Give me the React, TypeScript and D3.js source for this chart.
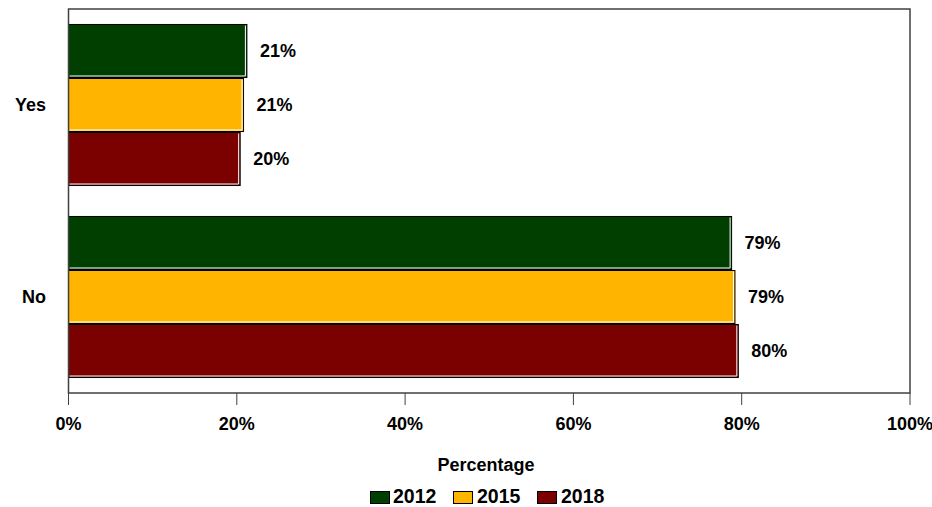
import React from "react";
import * as d3 from "d3";

const categories = ["Yes", "No"];
const seriesNames = ["2012", "2015", "2018"];
const values2012 = [21.2, 78.8];
const values2015 = [20.8, 79.2];
const values2018 = [20.4, 79.6];
const labels2012 = ["21%", "79%"];
const labels2015 = ["21%", "79%"];
const labels2018 = ["20%", "80%"];
const xTicks = [0, 20, 40, 60, 80, 100];
const colors = ["#003f00", "#ffb400", "#7b0000"];

const W = 932;
const H = 507;
const L = 68.5, R = 910, T = 9, B = 393;
const FONT = "'Liberation Sans', Arial, Helvetica, sans-serif";

export default function App() {
  const series = [values2012, values2015, values2018];
  const labels = [labels2012, labels2015, labels2018];
  const x = d3.scaleLinear().domain([0, 100]).range([L, R]);
  const y0 = d3.scaleBand<string>().domain(categories).range([T, B]).paddingInner(0.156).paddingOuter(0.078);
  const y1 = d3.scaleBand<string>().domain(seriesNames).range([0, y0.bandwidth()]);

  const legendItems = [
    { name: seriesNames[0], sx: 370, tx: 393 },
    { name: seriesNames[1], sx: 453, tx: 477 },
    { name: seriesNames[2], sx: 537, tx: 561 },
  ];

  return (
    <svg width={W} height={H} style={{ position: "absolute", left: 0, top: 0, background: "#fff" }} fontFamily={FONT}>
      <rect x={0} y={0} width={W} height={H} fill="#fff" />
      {categories.map((c, ci) => (
        <g key={c} transform={`translate(0,${y0(c)})`}>
          {seriesNames.map((s, si) => {
            const v = series[si][ci];
            const by = y1(s)!;
            const bh = y1.bandwidth();
            const bx = x(0);
            const bw = x(v) - x(0);
            return (
              <g key={s}>
                <rect x={bx} y={by + 0.5} width={bw} height={bh - 1} fill={colors[si]} stroke="#000" strokeWidth={1} />
                <polyline
                  points={`${bx + 1},${by + bh - 2} ${bx + bw - 1.5},${by + bh - 2} ${bx + bw - 1.5},${by + 1.5}`}
                  fill="none"
                  stroke="#fff"
                  strokeWidth={1}
                />
                <text x={x(v) + 13} y={by + bh / 2} dy="0.35em" fontSize={18} fontWeight="bold" fill="#000">
                  {labels[si][ci]}
                </text>
              </g>
            );
          })}
          <text x={46} y={y0.bandwidth() / 2} dy="0.35em" textAnchor="end" fontSize={18} fontWeight="bold" fill="#000">
            {c}
          </text>
        </g>
      ))}
      <rect x={L} y={T} width={R - L} height={B - T} fill="none" stroke="#404040" strokeWidth={1.5} />
      {xTicks.map((t) => (
        <g key={t}>
          <line x1={x(t)} x2={x(t)} y1={B} y2={B + 12} stroke="#404040" strokeWidth={1} />
          <text x={x(t)} y={430} textAnchor="middle" fontSize={18} fontWeight="bold" fill="#000">
            {`${t}%`}
          </text>
        </g>
      ))}
      <text x={486} y={471} textAnchor="middle" fontSize={18} fontWeight="bold" fill="#000">
        Percentage
      </text>
      {legendItems.map((it, i) => (
        <g key={it.name}>
          <rect x={it.sx + 0.5} y={491.5} width={19} height={12} fill={colors[i]} stroke="#000" strokeWidth={1} />
          <text x={it.tx} y={503} fontSize={19.5} fontWeight="bold" fill="#000">
            {it.name}
          </text>
        </g>
      ))}
    </svg>
  );
}
